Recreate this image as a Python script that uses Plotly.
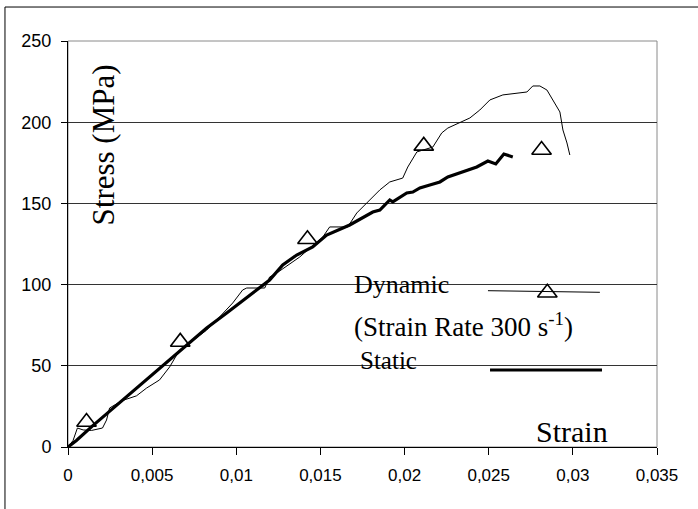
import plotly.graph_objects as go

# Static test: strain vs stress (MPa)
static_strain = [0, 0.0005, 0.00146, 0.00306, 0.0042, 0.00526, 0.0065, 0.00824,
                 0.00943, 0.0102, 0.01121, 0.01198, 0.01276, 0.01359, 0.01454,
                 0.01537, 0.01674, 0.01811, 0.01853, 0.01912, 0.0193, 0.02013,
                 0.02049, 0.02091, 0.0215, 0.0221, 0.02257, 0.02358, 0.02429,
                 0.02495, 0.02542, 0.0259, 0.02643]
static_stress = [0, 4.0, 13.0, 27.2, 37.0, 46.5, 57.5, 73.3,
                 82.5, 88.7, 96.7, 102.8, 112.1, 118.2, 123.2,
                 130.5, 136.7, 144.7, 145.9, 152.1, 150.9, 156.4,
                 157.0, 159.5, 161.3, 163.2, 166.3, 170.0, 172.4,
                 176.1, 174.3, 180.4, 178.6]

# Dynamic test (strain rate 300 1/s)
dynamic_strain = [0, 0.0003, 0.00056, 0.0009, 0.0014, 0.00205, 0.00229, 0.00247,
                  0.0032, 0.00407, 0.00467, 0.00544, 0.00604, 0.00663, 0.00723,
                  0.00824, 0.0090, 0.00979, 0.01038, 0.01062, 0.01169, 0.01198,
                  0.0124, 0.0131, 0.01377, 0.01454, 0.01514, 0.01555, 0.01662,
                  0.01716, 0.01775, 0.01853, 0.01912, 0.01989, 0.02019, 0.02073,
                  0.02168, 0.02221, 0.02257, 0.02328, 0.02388, 0.02447, 0.02507,
                  0.02584, 0.02667, 0.02727, 0.02762, 0.02804, 0.02846, 0.02881,
                  0.02923, 0.02941, 0.02965, 0.02982]
dynamic_stress = [0, 4.0, 11.7, 10.5, 10.2, 11.7, 16.6, 24.0,
                  28.5, 31.5, 36.3, 41.3, 49.3, 59.7, 64.0,
                  72.0, 80.0, 88.7, 96.7, 97.9, 97.9, 104.7,
                  107.1, 112.0, 117.0, 124.0, 129.3, 135.5, 135.5,
                  144.1, 150.3, 158.3, 163.2, 165.6, 172.4, 181.7,
                  184.7, 193.4, 196.4, 199.5, 202.6, 207.5, 213.7,
                  216.8, 218.0, 218.6, 222.3, 222.3, 219.8, 213.7,
                  206.3, 195.2, 187.2, 179.8]

# Dynamic series markers
marker_strain = [0.0011, 0.00667, 0.01423, 0.02114, 0.02814]
marker_stress = [15.4, 64.7, 127.9, 185.4, 182.9]

x_ticks = [0, 0.005, 0.01, 0.015, 0.02, 0.025, 0.03, 0.035]
x_tick_labels = ["0", "0,005", "0,01", "0,015", "0,02", "0,025", "0,03", "0,035"]
y_ticks = [0, 50, 100, 150, 200, 250]

SERIF = "Liberation Serif, Times New Roman, serif"
SANS = "Liberation Sans, Arial, sans-serif"

fig = go.Figure()

fig.add_trace(go.Scatter(x=dynamic_strain, y=dynamic_stress, mode="lines",
                         line=dict(color="black", width=1), showlegend=False))
fig.add_trace(go.Scatter(x=static_strain, y=static_stress, mode="lines",
                         line=dict(color="black", width=3.2), showlegend=False))
fig.add_trace(go.Scatter(x=marker_strain, y=marker_stress, mode="markers",
                         marker=dict(symbol="triangle-up-open", size=17, color="black",
                                     line=dict(color="black", width=1.6)),
                         showlegend=False))

# Hand-placed key samples on an overlay axis spanning the plot area
fig.add_trace(go.Scatter(x=[0.713, 0.903], y=[0.385, 0.381], mode="lines",
                         line=dict(color="black", width=1), xaxis="x2", yaxis="y2",
                         showlegend=False, hoverinfo="skip"))
fig.add_trace(go.Scatter(x=[0.8138], y=[0.380], mode="markers",
                         marker=dict(symbol="triangle-up-open", size=17, color="black",
                                     line=dict(color="black", width=1.6)),
                         xaxis="x2", yaxis="y2", showlegend=False, hoverinfo="skip"))
fig.add_trace(go.Scatter(x=[0.7165, 0.9066], y=[0.1897, 0.1897], mode="lines",
                         line=dict(color="black", width=3.2), xaxis="x2", yaxis="y2",
                         showlegend=False, hoverinfo="skip"))

annotations = [
    dict(text="Stress (MPa)", x=0.061, y=0.745, xref="paper", yref="paper",
         textangle=-90, showarrow=False, font=dict(family=SERIF, size=31, color="black"),
         xanchor="center", yanchor="middle"),
    dict(text="Strain", x=0.855, y=0.037, xref="paper", yref="paper",
         showarrow=False, font=dict(family=SERIF, size=30, color="black"),
         xanchor="center", yanchor="middle"),
    dict(text="Dynamic", x=0.483, y=0.400, xref="paper", yref="paper",
         showarrow=False, font=dict(family=SERIF, size=26, color="black"),
         xanchor="left", yanchor="middle"),
    dict(text="(Strain Rate 300 s<sup>-1</sup>)", x=0.483, y=0.300, xref="paper", yref="paper",
         showarrow=False, font=dict(family=SERIF, size=27, color="black"),
         xanchor="left", yanchor="middle"),
    dict(text="Static", x=0.492, y=0.212, xref="paper", yref="paper",
         showarrow=False, font=dict(family=SERIF, size=25, color="black"),
         xanchor="left", yanchor="middle"),
]

shapes = [
    # plot area border (grey)
    dict(type="rect", xref="paper", yref="paper", x0=0, y0=0, x1=1, y1=1,
         line=dict(color="#8a8a8a", width=1), layer="below"),
    # outer chart frame
    dict(type="rect", xref="paper", yref="paper", x0=-0.107, y0=-0.17, x1=1.075, y1=1.0837,
         line=dict(color="black", width=1), layer="below"),
]

fig.update_layout(
    width=698, height=509,
    margin=dict(l=68, r=41, t=41, b=62, pad=0),
    paper_bgcolor="white", plot_bgcolor="white",
    separators=", ",
    annotations=annotations,
    shapes=shapes,
    xaxis=dict(range=[0, 0.035], tickvals=x_ticks, ticktext=x_tick_labels,
               showgrid=False, zeroline=False, showline=True, linecolor="black",
               linewidth=1, ticks="outside", ticklen=7, tickcolor="black",
               tickfont=dict(family=SANS, size=17, color="black"), ticklabelstandoff=6),
    yaxis=dict(range=[0, 250], tickvals=y_ticks, showgrid=True, gridcolor="#333333",
               gridwidth=1, zeroline=False, showline=True, linecolor="black",
               linewidth=1, ticks="outside", ticklen=6, tickcolor="black",
               tickfont=dict(family=SANS, size=18, color="black"), ticklabelstandoff=6),
    xaxis2=dict(range=[0, 1], overlaying="x", visible=False, fixedrange=True),
    yaxis2=dict(range=[0, 1], overlaying="y", visible=False, fixedrange=True),
    showlegend=False,
)

fig.write_html("out.html")
